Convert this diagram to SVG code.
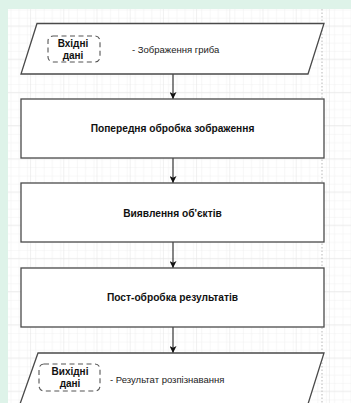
<svg xmlns="http://www.w3.org/2000/svg" width="351" height="403" viewBox="0 0 351 403">
  <defs>
    <pattern id="gridMinor" x="-3.1" y="25.5" width="8.3" height="8.3" patternUnits="userSpaceOnUse">
      <path d="M 8.3 0 L 0 0 0 8.3" fill="none" stroke="#efefef" stroke-width="1"/>
    </pattern>
    <pattern id="gridMajor" x="-3.1" y="25.5" width="33.2" height="33.2" patternUnits="userSpaceOnUse">
      <rect width="33.2" height="33.2" fill="url(#gridMinor)"/>
      <path d="M 33.2 0 L 0 0 0 33.2" fill="none" stroke="#e2e2e2" stroke-width="1"/>
    </pattern>
    <marker id="arrow" viewBox="0 0 10 10" refX="10" refY="5" markerWidth="7" markerHeight="7" markerUnits="userSpaceOnUse" orient="auto">
      <path d="M 0 0 L 10 5 L 0 10 L 2.5 5 Z" fill="#111"/>
    </marker>
    <style>
      .shape { fill: #ffffff; stroke: #4a4a4a; stroke-width: 1.3; }
      .tag { fill: none; stroke: #555; stroke-width: 1.1; stroke-dasharray: 5 3.5; }
      .title { font-family: "Liberation Sans", Arial, sans-serif; font-size: 10.2px; font-weight: bold; fill: #111; text-anchor: middle; }
      .tagText { font-family: "Liberation Sans", Arial, sans-serif; font-size: 10px; font-weight: bold; fill: #111; text-anchor: middle; }
      .note { font-family: "Liberation Sans", Arial, sans-serif; font-size: 9.5px; fill: #222; }
      .link { fill: none; stroke: #222; stroke-width: 1.1; }
    </style>
  </defs>

  <!-- frame and canvas -->
  <rect x="0" y="0" width="351" height="403" fill="#def3e9"/>
  <rect x="8" y="9" width="343" height="394" fill="#ffffff"/>
  <rect x="8" y="9" width="343" height="394" fill="url(#gridMajor)"/>
  <!-- page break line -->
  <line x1="322" y1="9" x2="322" y2="403" stroke="#cfcfcf" stroke-width="1.5" stroke-dasharray="1.5 2"/>

  <!-- connectors -->
  <g id="connectors">
    <line class="link" x1="173" y1="74" x2="173" y2="99" marker-end="url(#arrow)"/>
    <line class="link" x1="173" y1="158" x2="173" y2="183" marker-end="url(#arrow)"/>
    <line class="link" x1="173" y1="242" x2="173" y2="268" marker-end="url(#arrow)"/>
    <line class="link" x1="173" y1="327" x2="173" y2="353" marker-end="url(#arrow)"/>
  </g>

  <!-- input data -->
  <g id="input">
    <polygon class="shape" points="37,23.5 324,23.5 308,74 21,74"/>
    <rect class="tag" x="48" y="36" width="52" height="26" rx="5"/>
    <text class="tagText" x="73" y="46.5">Вхідні</text>
    <text class="tagText" x="73" y="58.5">дані</text>
    <text class="note" x="132" y="52.5">- Зображення гриба</text>
  </g>

  <!-- preprocessing -->
  <g id="preprocess">
    <rect class="shape" x="21" y="99" width="303" height="59"/>
    <text class="title" x="172.5" y="132">Попередня обробка зображення</text>
  </g>

  <!-- detection -->
  <g id="detect">
    <rect class="shape" x="21" y="183" width="303" height="59"/>
    <text class="title" x="172.5" y="217">Виявлення об'єктів</text>
  </g>

  <!-- postprocessing -->
  <g id="postprocess">
    <rect class="shape" x="21" y="268" width="303" height="59"/>
    <text class="title" x="172.5" y="301">Пост-обробка результатів</text>
  </g>

  <!-- output data -->
  <g id="output">
    <polygon class="shape" points="38,353 324,353 308,404 20,404"/>
    <rect class="tag" x="39" y="364" width="61" height="27" rx="5"/>
    <text class="tagText" x="70" y="375">Вихідні</text>
    <text class="tagText" x="70" y="387">дані</text>
    <text class="note" x="110" y="383">- Результат розпізнавання</text>
  </g>
</svg>
